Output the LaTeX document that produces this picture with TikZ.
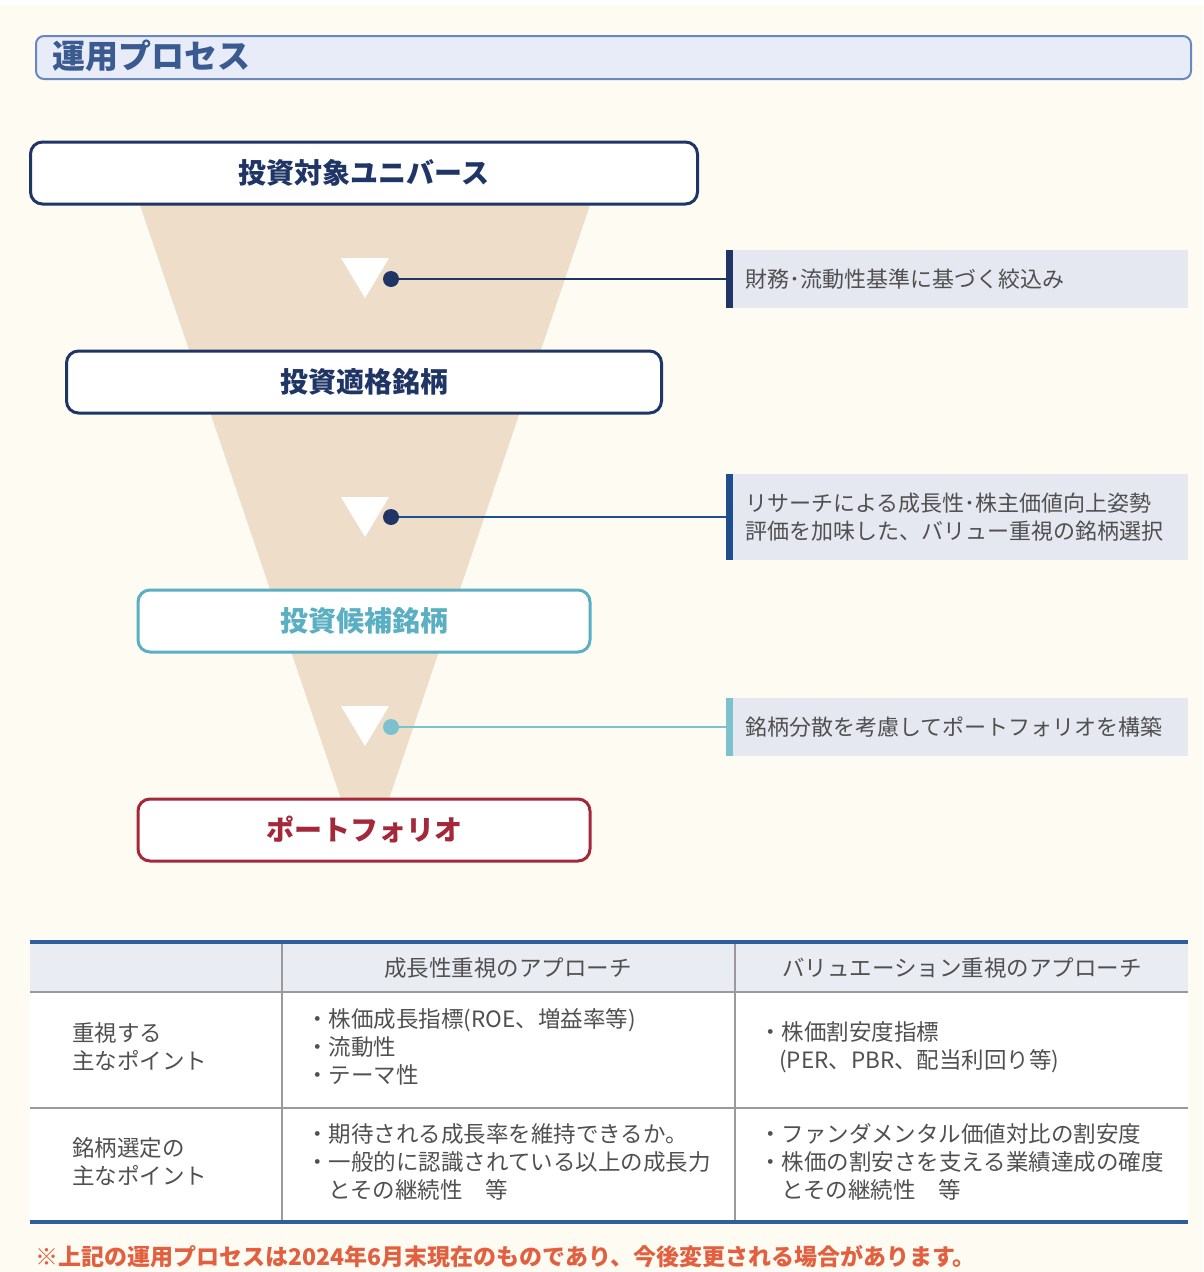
\documentclass[tikz,border=0pt]{standalone}
\usepackage{fontspec}
\setmainfont{Noto Sans CJK JP}
\usetikzlibrary{positioning}
\definecolor{bgcream}{HTML}{FDFBF2}
\definecolor{funnel}{HTML}{EEDDC9}
\definecolor{navy}{HTML}{1F3566}
\definecolor{midblue}{HTML}{1F4E8C}
\definecolor{teal}{HTML}{5AAFC2}
\definecolor{lteal}{HTML}{7CC2CE}
\definecolor{dred}{HTML}{A3283A}
\definecolor{hdrfill}{HTML}{E8ECF8}
\definecolor{hdrline}{HTML}{6A88BE}
\definecolor{hdrtext}{HTML}{3A5A90}
\definecolor{notefill}{HTML}{E6E8F1}
\definecolor{txtgray}{HTML}{505050}
\definecolor{tblblue}{HTML}{2E5E9E}
\definecolor{tblgray}{HTML}{9A9A9A}
\definecolor{tblhead}{HTML}{E9ECF3}
\definecolor{footred}{HTML}{E2603F}
\tikzset{
  stage/.style={draw=#1, line width=3pt, rounded corners=12pt, fill=white, minimum height=62pt, inner sep=0pt,
     text=#1, font=\fontsize{28}{32}\selectfont\bfseries},
  notetext/.style={anchor=west, text=txtgray, font=\fontsize{22}{28}\selectfont, align=left, inner sep=0pt},
  bar/.style={fill=#1, draw=none},
  dotnode/.style={circle, fill=#1, draw=none, minimum size=16pt, inner sep=0pt},
  conn/.style={draw=#1, line width=1.6pt},
  tri/.style={fill=white, draw=none},
  cell/.style={anchor=west, text=txtgray, font=\fontsize{22.5}{28}\selectfont, align=left, inner sep=0pt},
  headcell/.style={text=txtgray, font=\fontsize{22.5}{28}\selectfont, inner sep=0pt},
}
\begin{document}
\begin{tikzpicture}[x=1pt,y=-1pt]
\useasboundingbox (0,0) rectangle (1203,1272);
\fill[bgcream] (0,0) rectangle (1203,1272);
\fill[white] (0,0) rectangle (1203,5);

% header
\node[draw=hdrline, line width=2pt, fill=hdrfill, rounded corners=8pt, minimum width=1155pt, minimum height=43pt, inner sep=0pt, anchor=north west] (hdr) at (35,35) {};
\node[anchor=west, text=hdrtext, font=\fontsize{33}{36}\selectfont\bfseries, inner sep=0pt] (hdrt) at (52,56) {運用プロセス};

% funnel
\begin{scope}
\clip (0,200) rectangle (1203,805);
\fill[funnel] (140,205) -- (590,205) -- (365,870) -- cycle;
\end{scope}

% stages
\node[stage=navy, minimum width=667pt] (s1) at (364,173) {投資対象ユニバース};
\node[stage=navy, minimum width=595pt] (s2) at (364,382) {投資適格銘柄};
\node[stage=teal, minimum width=452pt] (s3) at (364,621) {投資候補銘柄};
\node[stage=dred, minimum width=452pt] (s4) at (364,830) {ポートフォリオ};

% triangles
\fill[tri] (341,258) -- (389,258) -- (365,298) -- cycle;
\fill[tri] (341,497) -- (389,497) -- (365,537) -- cycle;
\fill[tri] (341,706) -- (389,706) -- (365,746) -- cycle;

% notes
\fill[notefill] (733,250) rectangle (1188,308);
\fill[bar=navy] (726,250) rectangle (733,308);
\coordinate (n1) at (727,279);
\node[notetext] (t1) at (745,279) {財務･流動性基準に基づく絞込み};

\fill[notefill] (733,474) rectangle (1188,560);
\fill[bar=midblue] (726,474) rectangle (733,560);
\coordinate (n2) at (727,517);
\node[notetext] (t2) at (745,517) {リサーチによる成長性･株主価値向上姿勢\\評価を加味した、バリュー重視の銘柄選択};

\fill[notefill] (733,698) rectangle (1188,756);
\fill[bar=lteal] (726,698) rectangle (733,756);
\coordinate (n3) at (727,727);
\node[notetext] (t3) at (745,727) {銘柄分散を考慮してポートフォリオを構築};

% connectors
\node[dotnode=navy] (d1) at (391,279) {};
\node[dotnode=navy] (d2) at (391,517) {};
\node[dotnode=lteal] (d3) at (391,727) {};
\draw[conn=navy] (d1) -- (n1);
\draw[conn=midblue] (d2) -- (n2);
\draw[conn=lteal] (d3) -- (n3);

% table
\fill[tblhead] (30,944) rectangle (1188,992);
\fill[white] (30,992) rectangle (1188,1222);
\draw[tblgray, line width=1.5pt] (30,992) -- (1188,992);
\draw[tblgray, line width=1.5pt] (30,1108) -- (1188,1108);
\draw[tblgray, line width=1.5pt] (282,944) -- (282,1222);
\draw[tblgray, line width=1.5pt] (735,944) -- (735,1222);
\draw[tblblue, line width=4pt] (30,942) -- (1188,942);
\draw[tblblue, line width=4pt] (30,1222) -- (1188,1222);

\node[headcell] (h2) at (508,968) {成長性重視のアプローチ};
\node[headcell] (h3) at (962,968) {バリュエーション重視のアプローチ};

\node[cell] (r1) at (72,1047) {重視する\\主なポイント};
\node[cell] (c12) at (306,1047) {・株価成長指標(ROE、増益率等)\\・流動性\\・テーマ性};
\node[cell] (c13) at (759,1047) {・株価割安度指標\\\hspace*{20pt}(PER、PBR、配当利回り等)};

\node[cell] (r2) at (72,1162) {銘柄選定の\\主なポイント};
\node[cell] (c22) at (306,1162) {・期待される成長率を維持できるか。\\・一般的に認識されている以上の成長力\\\hspace*{22pt}とその継続性　等};
\node[cell] (c23) at (759,1162) {・ファンダメンタル価値対比の割安度\\・株価の割安さを支える業績達成の確度\\\hspace*{22pt}とその継続性　等};

% footer
\node[anchor=west, text=footred, font=\fontsize{23}{26}\selectfont\bfseries, inner sep=0pt] (foot) at (35,1257) {※上記の運用プロセスは2024年6月末現在のものであり、今後変更される場合があります。};
\end{tikzpicture}
\end{document}
